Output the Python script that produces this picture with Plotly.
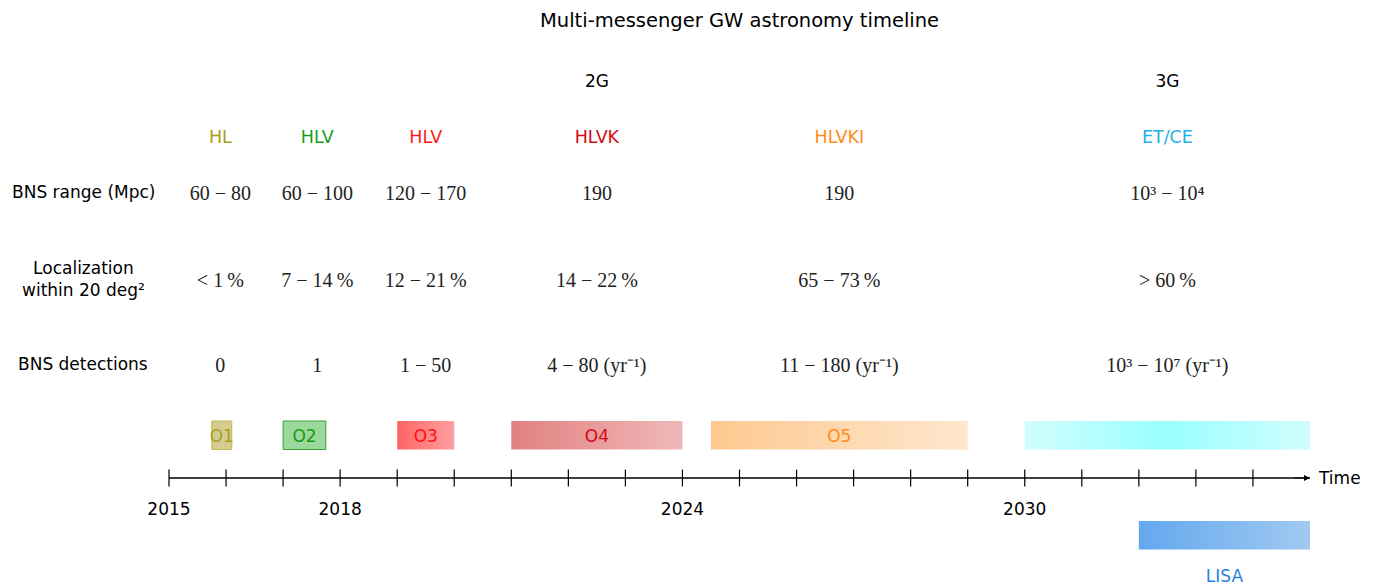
import plotly.graph_objects as go

# ---------------- data ----------------
title = "Multi-messenger GW astronomy timeline"

generations = ["2G", "3G"]
generation_years = [2022.5, 2032.5]

networks = ["HL", "HLV", "HLV", "HLVK", "HLVKI", "ET/CE"]
network_years = [2015.9, 2017.6, 2019.5, 2022.5, 2026.75, 2032.5]
network_colors = ["#a89e12", "#1a9e1a", "#ff1a1a", "#d40a14", "#ff8c1a", "#1fb1ea"]

row_labels = ["BNS range (Mpc)", "Localization<br>within 20 deg²", "BNS detections"]

bns_range = ["60 − 80", "60 − 100", "120 − 170", "190", "190", "10³ − 10⁴"]
localization = ["&lt; 1\u2009%", "7 − 14\u2009%", "12 − 21\u2009%", "14 − 22\u2009%",
                "65 − 73\u2009%", "&gt; 60\u2009%"]
detections = ["0", "1", "1 − 50", "4 − 80 (yr⁻¹)", "11 − 180 (yr⁻¹)",
              "10³ − 10⁷ (yr⁻¹)"]

runs = ["O1", "O2", "O3", "O4", "O5", ""]
run_start = [2015.75, 2017.0, 2019.0, 2021.0, 2024.5, 2030.0]
run_end = [2016.1, 2017.75, 2020.0, 2024.0, 2029.0, 2035.0]
run_label_colors = ["#aaa01e", "#139e13", "#ff1010", "#d40a14", "#ff8c1a", "#000000"]
run_fills = [
    [[0, "#d4cd90"], [1, "#d4cd90"]],
    [[0, "#9cd89c"], [1, "#9cd89c"]],
    [[0, "#ff6464"], [1, "#ffa0a0"]],
    [[0, "#e28181"], [1, "#efb8b8"]],
    [[0, "#fdc990"], [1, "#ffe6cd"]],
    [[0, "#d0fdfd"], [0.5, "#99ffff"], [1, "#d0fdfd"]],
]
run_borders = ["#c3b951", "#36a636", None, None, None, None]

lisa_label = "LISA"
lisa_start, lisa_end = 2032.0, 2035.0
lisa_fill = [[0, "#63a8ee"], [1, "#a1c9f2"]]
lisa_color = "#2382e2"

year_ticks = list(range(2015, 2035))
axis_start, axis_end = 2015, 2035
labeled_years = [2015, 2018, 2024, 2030]

# ---------------- layout constants ----------------
W, H = 1373, 587
PX_PER_YEAR = (1310 - 169) / 20.0
X0 = 2015 - 169 / PX_PER_YEAR
X1 = 2015 + (W - 169) / PX_PER_YEAR

SANS = "DejaVu Sans"
SERIF = "Liberation Serif"

TXT = 2.5  # vertical nudge for scatter text rows
Y_TITLE, Y_GEN, Y_NET = 20, 80, 136
Y_RANGE, Y_LOC, Y_DET = 192, 279, 364
BAR_TOP, BAR_BOT = 421, 449.5
Y_AXIS, Y_TICKLAB = 478, 508
LISA_TOP, LISA_BOT = 521, 549.5
Y_LISA_LAB = 575

fig = go.Figure()

def text_row(xs, y, texts, colors, family, size):
    fig.add_trace(go.Scatter(
        x=xs, y=[y + TXT] * len(xs), mode="text", text=texts,
        textposition="middle center", cliponaxis=False,
        textfont=dict(family=family, size=size, color=colors),
        hoverinfo="skip", showlegend=False))

# generation and network rows
text_row(generation_years, Y_GEN, generations, ["#000000"] * 2, SANS, 17)
text_row(network_years, Y_NET, networks, network_colors, SANS, 17.5)
text_row(network_years, Y_RANGE, bns_range, ["#222222"] * 6, SERIF, 20)
text_row(network_years, Y_LOC, localization, ["#222222"] * 6, SERIF, 20)
text_row(network_years, Y_DET, detections, ["#222222"] * 6, SERIF, 20)

# run bars
for name, s, e, fill, border, lc in zip(runs, run_start, run_end, run_fills,
                                         run_borders, run_label_colors):
    fig.add_trace(go.Scatter(
        x=[s, e, e, s, s], y=[BAR_TOP, BAR_TOP, BAR_BOT, BAR_BOT, BAR_TOP],
        mode="lines", fill="toself",
        fillgradient=dict(type="horizontal", colorscale=fill),
        line=dict(width=1 if border else 0, color=border or "rgba(0,0,0,0)"),
        hoverinfo="skip", showlegend=False))
    if name:
        text_row([(s + e) / 2], (BAR_TOP + BAR_BOT) / 2, [name], [lc], SANS, 17)

# LISA bar
fig.add_trace(go.Scatter(
    x=[lisa_start, lisa_end, lisa_end, lisa_start, lisa_start],
    y=[LISA_TOP, LISA_TOP, LISA_BOT, LISA_BOT, LISA_TOP],
    mode="lines", fill="toself",
    fillgradient=dict(type="horizontal", colorscale=lisa_fill),
    line=dict(width=0, color="rgba(0,0,0,0)"),
    hoverinfo="skip", showlegend=False))
text_row([(lisa_start + lisa_end) / 2], Y_LISA_LAB, [lisa_label], [lisa_color], SANS, 17)

# time axis
fig.add_trace(go.Scatter(
    x=[axis_start, axis_end], y=[Y_AXIS, Y_AXIS], mode="lines",
    line=dict(color="#000000", width=1.3), hoverinfo="skip", showlegend=False))
fig.add_trace(go.Scatter(
    x=year_ticks, y=[Y_AXIS] * len(year_ticks), mode="markers",
    marker=dict(symbol="line-ns", size=12, line=dict(width=1.2, color="#000000")),
    hoverinfo="skip", showlegend=False))
text_row(labeled_years, Y_TICKLAB, [str(y) for y in labeled_years],
         ["#000000"] * len(labeled_years), SANS, 17)

annotations = [
    dict(x=axis_end, y=Y_AXIS, ax=axis_end - 0.3, ay=Y_AXIS, axref="x", ayref="y",
         xref="x", yref="y", text="", showarrow=True, arrowhead=2, arrowsize=1,
         arrowwidth=1.2, arrowcolor="#000000"),
    dict(x=axis_end + 0.1, y=Y_AXIS, xref="x", yref="y", text="Time",
         showarrow=False, xanchor="left", yanchor="middle",
         font=dict(family=SANS, size=17, color="#000000")),
    dict(x=(X0 + X1) / 2 + (739.5 - 686.5) / PX_PER_YEAR, y=Y_TITLE, xref="x", yref="y",
         text=title, showarrow=False, xanchor="center",
         font=dict(family=SANS, size=19.5, color="#000000")),
]
for lab, y in zip(row_labels, [Y_RANGE, Y_LOC, Y_DET]):
    annotations.append(dict(x=83 / W, y=y, xref="paper", yref="y", text=lab,
                            showarrow=False, align="center", xanchor="center",
                            yanchor="middle",
                            font=dict(family=SANS, size=17, color="#000000")))

fig.update_layout(
    width=W, height=H, margin=dict(l=0, r=0, t=0, b=0),
    paper_bgcolor="white", plot_bgcolor="white",
    xaxis=dict(range=[X0, X1], visible=False, fixedrange=True),
    yaxis=dict(range=[H, 0], visible=False, fixedrange=True),
    annotations=annotations, showlegend=False)

fig.write_html("out.html", config={"displayModeBar": False},
               post_script="document.body.style.margin='0px';document.body.style.overflow='hidden';")
